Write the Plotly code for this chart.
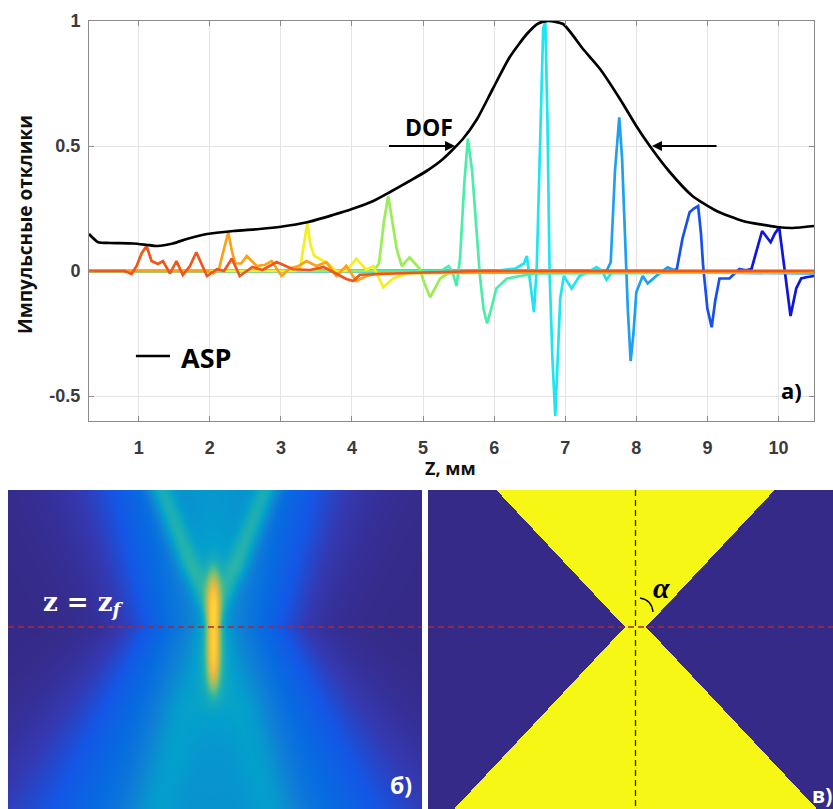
import numpy as np
import plotly.graph_objects as go

FIG_W, FIG_H = 833, 809

# ---------------- panel (a): data ----------------
X_TICKS = [1, 2, 3, 4, 5, 6, 7, 8, 9, 10]
Y_TICKS = [-0.5, 0, 0.5, 1]
Y_TICKTEXT = ["-0.5", "0", "0.5", "1"]

Z_ASP = [0.3, 0.43, 0.6, 0.92, 1.1, 1.26, 1.48, 1.7, 1.96, 2.33, 2.7, 3.0, 3.37, 3.73, 4.0,
         4.3, 4.53, 4.81, 5.05, 5.28, 5.56, 5.76, 5.98, 6.22, 6.46, 6.62, 6.76, 6.97, 7.25,
         7.49, 7.77, 8.0, 8.19, 8.47, 8.79, 9.13, 9.5, 9.98, 10.2, 10.5]
ASP = [0.148, 0.115, 0.112, 0.11, 0.105, 0.10, 0.11, 0.13, 0.148, 0.16, 0.168, 0.177, 0.195,
       0.224, 0.248, 0.28, 0.315, 0.36, 0.40, 0.448, 0.528, 0.608, 0.728, 0.856, 0.948,
       0.99, 1.0, 0.988, 0.888, 0.808, 0.688, 0.58, 0.5, 0.396, 0.30, 0.24, 0.20, 0.176,
       0.172, 0.18]

# pulse at z ~ 1.1 mm
Z_P1 = [0.3, 0.8, 0.9, 0.97, 1.04, 1.11, 1.18, 1.27, 1.34, 1.44, 1.53, 1.62, 1.72, 1.81,
        1.96, 2.1, 2.2, 2.31, 2.42, 2.6, 2.74, 2.94, 3.17, 3.41, 3.6, 3.78, 3.92, 4.02,
        4.11, 5.0, 5.8, 10.5]
V_P1 = [0, 0, -0.012, 0.02, 0.07, 0.10, 0.04, 0.028, 0.04, -0.01, 0.04, -0.016, 0.02,
        0.075, -0.02, 0.007, 0.0, 0.05, -0.02, 0.016, 0.004, 0.036, 0.007, 0.004, 0.016,
        -0.012, -0.032, -0.04, -0.015, -0.006, 0, 0]
# pulse at z ~ 2.25 mm
Z_P2 = [0.3, 1.98, 2.05, 2.13, 2.2, 2.26, 2.31, 2.36, 2.44, 2.52, 2.66, 2.78, 2.87, 3.01,
        3.12, 3.25, 3.36, 3.5, 3.64, 3.78, 3.92, 4.06, 4.2, 4.4, 10.5]
V_P2 = [0, 0, -0.01, 0.01, 0.09, 0.155, 0.08, 0.03, 0.03, 0.06, 0.02, 0.025, 0.04, -0.02,
        0.01, 0.02, 0.04, 0.02, 0.035, -0.02, 0.02, -0.04, -0.02, -0.008, -0.003]
# pulse at z ~ 3.4 mm
Z_P3 = [0.3, 3.2, 3.27, 3.32, 3.37, 3.42, 3.47, 3.54, 3.66, 3.78, 3.92, 4.06, 4.2, 4.3,
        4.44, 4.58, 4.77, 5.0, 10.5]
V_P3 = [0, 0, 0.01, 0.1, 0.19, 0.1, 0.06, 0.05, 0.03, 0.0, 0.0, 0.05, 0.005, 0.02, -0.065,
        -0.03, -0.01, -0.008, -0.003]
# pulse at z ~ 4.5 mm
Z_P4 = [0.3, 4.3, 4.38, 4.45, 4.51, 4.57, 4.63, 4.7, 4.81, 4.95, 5.02, 5.1, 5.24, 5.35,
        5.5, 10.5]
V_P4 = [0, 0, 0.03, 0.2, 0.30, 0.2, 0.086, 0.02, 0.055, 0.01, -0.05, -0.105, -0.03, -0.01,
        -0.005, 0]
# pulse at z ~ 5.6 mm
Z_P5 = [0.3, 5.25, 5.36, 5.41, 5.47, 5.52, 5.58, 5.63, 5.69, 5.76, 5.8, 5.85, 5.9, 5.96,
        6.03, 6.18, 6.36, 6.6, 10.5]
V_P5 = [0, 0, 0.02, 0.0, -0.06, 0.05, 0.35, 0.53, 0.4, 0.155, -0.02, -0.15, -0.21, -0.15,
        -0.07, -0.03, -0.02, -0.01, -0.005]
# pulse at z ~ 6.75 mm
Z_P6 = [0.3, 6.0, 6.3, 6.42, 6.46, 6.51, 6.56, 6.6, 6.65, 6.69, 6.72, 6.75, 6.78, 6.82,
        6.86, 6.89, 6.93, 6.98, 7.09, 7.2, 7.35, 7.44, 7.52, 7.58, 7.65, 10.5]
V_P6 = [0, 0, 0.01, 0.03, 0.06, -0.05, -0.165, 0.02, 0.5, 0.97, 1.0, 0.6, -0.005, -0.35,
        -0.58, -0.4, -0.11, -0.02, -0.07, -0.02, 0.0, 0.016, 0.0, -0.035, -0.008, -0.005]
# pulse at z ~ 7.75 mm
Z_P7 = [0.3, 7.58, 7.64, 7.7, 7.76, 7.8, 7.84, 7.88, 7.92, 7.96, 8.0, 8.09, 8.16, 8.28,
        8.44, 8.6, 10.5]
V_P7 = [0, 0, 0.035, 0.4, 0.615, 0.45, 0.15, -0.15, -0.36, -0.25, -0.085, -0.02, -0.05,
        -0.02, 0.015, -0.005, -0.01]
# pulse at z ~ 8.85 mm
Z_P8 = [0.3, 8.5, 8.57, 8.65, 8.75, 8.81, 8.87, 8.91, 8.94, 9.0, 9.06, 9.11, 9.17, 9.31,
        9.45, 9.6, 10.5]
V_P8 = [0, 0, 0.008, 0.13, 0.235, 0.25, 0.26, 0.15, 0.02, -0.15, -0.225, -0.12, -0.03,
        -0.03, 0.008, 0.0, 0]
# pulse at z ~ 9.9 mm
Z_P9 = [0.3, 9.5, 9.62, 9.71, 9.77, 9.89, 9.95, 10.01, 10.06, 10.11, 10.17, 10.25, 10.32,
        10.39, 10.5]
V_P9 = [0, 0, 0.008, 0.10, 0.16, 0.115, 0.15, 0.175, 0.06, -0.06, -0.18, -0.07, -0.03,
        -0.025, -0.02]

PULSES_Z = [Z_P9, Z_P8, Z_P7, Z_P6, Z_P5, Z_P4, Z_P3, Z_P2, Z_P1]
PULSES_V = [V_P9, V_P8, V_P7, V_P6, V_P5, V_P4, V_P3, V_P2, V_P1]
PULSE_COLORS = ["#0c16dc", "#1650f0", "#1f9ff0", "#1fe4f2", "#4aeea8", "#9aee55",
                "#f4f020", "#fba11c", "#f0561a"]

# ---------------- panels (b), (c): beam model parameters ----------------
IMG_B_W, IMG_B_H = 414, 319
IMG_C_W, IMG_C_H = 405, 319
FOCUS_X_B, FOCUS_Y_B = 205, 137
FOCUS_X_C, FOCUS_Y_C = 207.5, 137
CONE_HALF_ANGLE_DEG = 43.2
APEX_HALF_WIDTH = 10.5

PARULA = [[0.0, "#352a87"], [0.05, "#3538b0"], [0.1, "#1357e6"], [0.15, "#076ce0"],
          [0.2, "#0f7ed6"], [0.25, "#0990d0"], [0.3, "#03a0cc"], [0.4, "#26b3aa"],
          [0.5, "#71be77"], [0.6, "#b9bb52"], [0.7, "#edba3f"], [0.8, "#fccb38"],
          [0.9, "#f5e527"], [1.0, "#f9fb0e"]]


def px(x):
    return x / FIG_W


def py(y):
    return 1 - y / FIG_H


fig = go.Figure()

# panel (a) traces
for zz, vv, col in zip(PULSES_Z, PULSES_V, PULSE_COLORS):
    fig.add_trace(go.Scatter(x=zz, y=vv, mode="lines", line=dict(color=col, width=2.7),
                             showlegend=False, hoverinfo="skip", xaxis="x", yaxis="y"))
fig.add_trace(go.Scatter(x=Z_ASP, y=ASP, mode="lines",
                         line=dict(color="black", width=2.7, shape="spline", smoothing=0.6),
                         showlegend=False, hoverinfo="skip", xaxis="x", yaxis="y"))

# panel (b): blurred beam intensity
xs = np.arange(0, IMG_B_W, 2) + 1.0
ys = np.arange(0, IMG_B_H, 2) + 1.0
X, Y = np.meshgrid(xs, ys)
dx = X - FOCUS_X_B
dy = Y - FOCUS_Y_B
ady = np.abs(dy)
Wb = np.where(dy < 0, 72 + 0.25 * ady, 72 + 0.55 * ady)
base = 0.22 * np.exp(-0.9 * (dx / Wb) ** 2)
arm_c = 0.38 * ady
arms = np.where(dy < 0, 0.16 * np.exp(-((np.abs(dx) - arm_c) / 12) ** 2) * np.clip(-dy / 60, 0, 1), 0)
inner_up = np.where(dy < 0, 0.05 * np.exp(-(dx / (arm_c + 5)) ** 4), 0)
rid_c = 8 + 0.27 * ady
ridges = np.where(dy > 0, 0.07 * np.exp(-((np.abs(dx) - rid_c) / 22) ** 2) * np.clip(dy / 80, 0, 1), 0)
fill_lo = np.where(dy > 0, 0.04 * np.exp(-(dx / (20 + 0.3 * ady)) ** 2), 0)
focus = 0.44 * np.exp(-(dx / 6.5) ** 2) * np.exp(-((dy - 3) / 58) ** 4)
halo = 0.13 * np.exp(-(dx / 15) ** 2 - ((dy - 3) / 72) ** 2)
Zb = base + arms + inner_up + ridges + fill_lo + focus + halo
fig.add_trace(go.Heatmap(x=xs, y=ys, z=Zb, colorscale=PARULA, zmin=0, zmax=1, zsmooth="best",
                         showscale=False, hoverinfo="skip", xaxis="x2", yaxis="y2"))

# panel (c): geometric cone
xc = np.arange(IMG_C_W) + 0.5
yc = np.arange(IMG_C_H) + 0.5
XC, YC = np.meshgrid(xc, yc)
k = np.tan(np.radians(CONE_HALF_ANGLE_DEG))
Zc = (np.abs(XC - FOCUS_X_C) <= APEX_HALF_WIDTH + k * np.abs(YC - FOCUS_Y_C)).astype(int)
fig.add_trace(go.Heatmap(x=xc, y=yc, z=Zc, colorscale=[[0, "#352a87"], [1, "#f6f714"]],
                         zmin=0, zmax=1, showscale=False, hoverinfo="skip", xaxis="x3", yaxis="y3"))

axis_common = dict(showline=True, linecolor="#8a8a8a", linewidth=1, mirror="ticks",
                   ticks="inside", ticklen=5, tickcolor="#8a8a8a", showgrid=True,
                   gridcolor="#e4e4e4", gridwidth=1, zeroline=False, automargin=False,
                   tickfont=dict(family="Liberation Sans, Arial", size=18, color="#3a3a3a",
                                 weight="bold"))

fig.update_layout(
    width=FIG_W, height=FIG_H, margin=dict(l=0, r=0, t=0, b=0, pad=0, autoexpand=False),
    paper_bgcolor="white", plot_bgcolor="white",
    xaxis=dict(domain=[px(89), px(814)], range=[0.3, 10.5], anchor="y", tickvals=X_TICKS,
               ticklabelstandoff=10, **axis_common),
    yaxis=dict(domain=[py(421), py(21)], range=[-0.6, 1.0], anchor="x", tickvals=Y_TICKS,
               ticktext=Y_TICKTEXT, ticklabelstandoff=4, **axis_common),
    xaxis2=dict(domain=[px(8), px(422)], range=[0, IMG_B_W], anchor="y2", visible=False),
    yaxis2=dict(domain=[0, py(490)], range=[IMG_B_H, 0], anchor="x2", visible=False),
    xaxis3=dict(domain=[px(428), 1], range=[0, IMG_C_W], anchor="y3", visible=False),
    yaxis3=dict(domain=[0, py(490)], range=[IMG_C_H, 0], anchor="x3", visible=False),
)

shapes = [
    dict(type="line", xref="x", yref="y", x0=0.96, x1=1.44, y0=-0.34, y1=-0.34,
         line=dict(color="black", width=2.6)),
    dict(type="line", xref="x2", yref="y2", x0=0, x1=IMG_B_W, y0=FOCUS_Y_B, y1=FOCUS_Y_B,
         line=dict(color="#a82838", width=1.3, dash="6px,4px")),
    dict(type="line", xref="x3", yref="y3", x0=0, x1=IMG_C_W, y0=FOCUS_Y_C, y1=FOCUS_Y_C,
         line=dict(color="#a82838", width=1.3, dash="6px,4px")),
    dict(type="line", xref="x3", yref="y3", x0=FOCUS_X_C, x1=FOCUS_X_C, y0=0, y1=IMG_C_H,
         line=dict(color="#202020", width=1.3, dash="6px,4px")),
    dict(type="path", xref="x3", yref="y3", path="M 212,108 Q 224,110 225,122",
         line=dict(color="black", width=1.3)),
]
fig.update_layout(shapes=shapes)


def label(x, y, text, size, color="black", family="Open Sans", angle=0):
    return dict(xref="paper", yref="paper", x=px(x), y=py(y), text=text, textangle=angle,
                xanchor="center", yanchor="middle", showarrow=False,
                font=dict(family=family, size=size, color=color))


ann = [
    label(25, 225, "<b>Импульсные отклики</b>", 19, "#111", angle=-90),
    label(450, 468, "<b>Z, мм</b>", 18, "#111"),
    label(429, 127, "<b>DOF</b>", 23),
    label(206, 357, "<b>ASP</b>", 27),
    label(791, 390, "<b>а)</b>", 22),
    label(83, 603, "<b>z = z<sub><i>f</i></sub></b>", 26, "white", "DejaVu Serif"),
    label(401, 785, "<b>б)</b>", 23, "white"),
    label(822, 795, "<b>в)</b>", 21, "white"),
    label(661, 587, "<b><i>α</i></b>", 30, "black", "Liberation Serif"),
]
# DOF arrows
ann.append(dict(xref="x", yref="y", x=5.45, y=0.5, ax=4.5, ay=0.5, axref="x", ayref="y",
                text="", showarrow=True, arrowhead=2, arrowsize=1, arrowwidth=2, arrowcolor="black"))
ann.append(dict(xref="x", yref="y", x=8.22, y=0.5, ax=9.15, ay=0.5, axref="x", ayref="y",
                text="", showarrow=True, arrowhead=2, arrowsize=1, arrowwidth=2, arrowcolor="black"))
fig.update_layout(annotations=ann)

fig.write_html("out.html")
